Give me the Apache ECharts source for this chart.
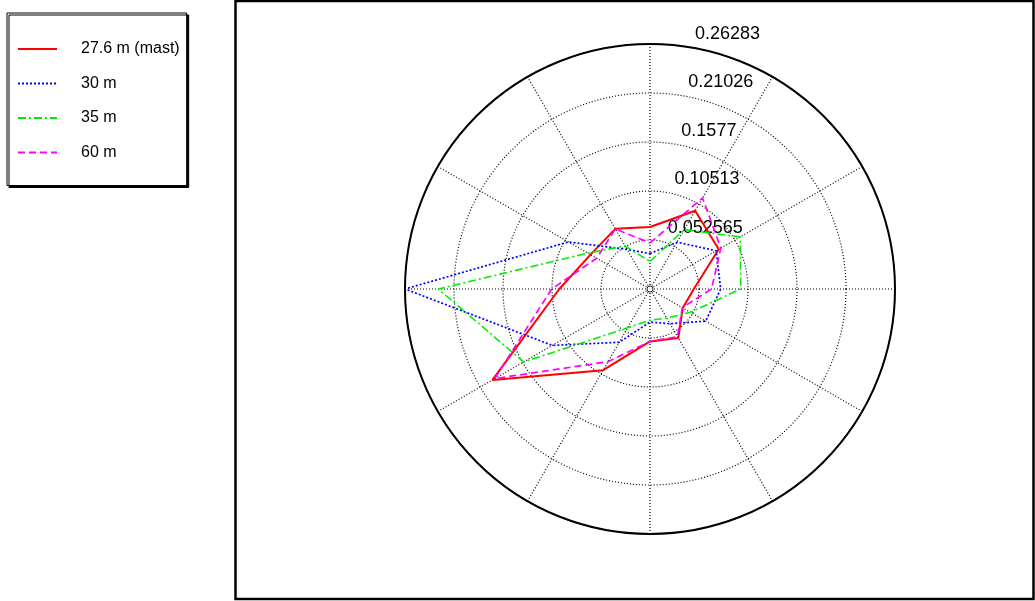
<!DOCTYPE html>
<html><head><meta charset="utf-8">
<script src="https://cdn.jsdelivr.net/npm/echarts@6/dist/echarts.min.js"></script>
<style>html,body{margin:0;padding:0;background:#fff}#c{width:1035px;height:601px}</style>
</head><body><div id="c"></div>
<script>
// wind directions (degrees clockwise from north)
const directions = [0, 30, 60, 90, 120, 150, 180, 210, 240, 270, 300, 330];
// relative frequency per sector
const mast276 = [0.0665, 0.0969, 0.0851, 0.0470, 0.0406, 0.0607, 0.0562, 0.1006, 0.1951, 0.0973, 0.0737, 0.0745];
const h30     = [0.0380, 0.0580, 0.0820, 0.0758, 0.0690, 0.0430, 0.0355, 0.0660, 0.1210, 0.26283, 0.1010, 0.0490];
const h35     = [0.0296, 0.0735, 0.1118, 0.0973, 0.0500, 0.0360, 0.0335, 0.0480, 0.1565, 0.2271, 0.0770, 0.0534];
const h60     = [0.0494, 0.1128, 0.0877, 0.0660, 0.0400, 0.0590, 0.0562, 0.0900, 0.1923, 0.1055, 0.0660, 0.0744];
const seriesNames = ['27.6 m (mast)', '30 m', '35 m', '60 m'];
const ringLabels = ['0.052565', '0.10513', '0.1577', '0.21026', '0.26283'];
const rMax = 0.26283;

const chart = echarts.init(document.getElementById('c'), null, {renderer: 'canvas'});
const step = rMax / 5;

function closed(vals) {
  const d = directions.map((a, i) => [vals[i], a]);
  d.push([vals[0], 360]);
  return d;
}
const styles = [
  {color: '#ff0000', width: 2, type: 'solid'},
  {color: '#0000ff', width: 1.7, type: [2, 2]},
  {color: '#00ee00', width: 1.6, type: [8, 3, 2, 3]},
  {color: '#ff00ff', width: 1.7, type: [7, 4]}
];
const allVals = [mast276, h30, h35, h60];

const grid = {color: '#000', width: 1.2, type: [1, 2]};

chart.setOption({
  animation: false,
  backgroundColor: '#fff',
  polar: [
    {center: [650, 289], radius: 245},
    {center: [650, 289], radius: 245}
  ],
  angleAxis: [
    {polarIndex: 0, type: 'value', min: 0, max: 360, interval: 30, startAngle: 90, clockwise: true,
     axisLine: {show: true, lineStyle: {color: '#000', width: 2}},
     axisTick: {show: false}, axisLabel: {show: false},
     splitLine: {show: true, lineStyle: grid}},
    {polarIndex: 1, type: 'value', min: 0, max: 360, startAngle: 82, clockwise: true,
     axisLine: {show: false}, axisTick: {show: false}, axisLabel: {show: false}, splitLine: {show: false}}
  ],
  radiusAxis: [
    {polarIndex: 0, type: 'value', min: 0, max: rMax, interval: step,
     axisLine: {show: false}, axisTick: {show: false}, axisLabel: {show: false},
     splitLine: {show: true, lineStyle: grid}},
    {polarIndex: 1, type: 'value', min: 0, max: rMax, interval: step,
     axisLine: {show: false}, axisTick: {show: false}, splitLine: {show: false},
     axisLabel: {show: true, margin: -11, align: 'left', verticalAlign: 'bottom', padding: [0, 0, 5, 0],
       color: '#000', fontSize: 18, fontFamily: 'Liberation Sans, Arial, sans-serif',
       formatter: function (v) { const i = Math.round(v / step); return i > 0 ? ringLabels[i - 1] : ''; }}}
  ],
  legend: {
    left: 7, top: 13, orient: 'vertical',
    padding: [26, 7, 23, 10], itemGap: 14.5, itemWidth: 39, itemHeight: 14,
    backgroundColor: '#fff', borderColor: '#000', borderWidth: 1,
    shadowColor: '#000', shadowOffsetX: 2, shadowOffsetY: 2, shadowBlur: 0,
    itemStyle: {opacity: 0, borderWidth: 0},
    data: seriesNames,
    textStyle: {fontSize: 16, lineHeight: 20, color: '#000', padding: [0, 0, 0, 19],
      fontFamily: "'Liberation Sans', Arial, sans-serif"}
  },
  graphic: [
    {type: 'rect', silent: true, z: 100, shape: {x: 235.5, y: 1, width: 798, height: 598},
     style: {fill: null, stroke: '#000', lineWidth: 2.5}},
    {type: 'circle', silent: true, z: 5, shape: {cx: 650, cy: 289, r: 3},
     style: {fill: '#fff', stroke: '#222', lineWidth: 1}}
  ],
  series: allVals.map((v, k) => ({
    name: seriesNames[k], type: 'line', coordinateSystem: 'polar', polarIndex: 0,
    data: closed(v), symbol: 'none', smooth: false,
    lineStyle: styles[k], itemStyle: {color: styles[k].color}, z: 3 + k
  }))
});
</script></body></html>
